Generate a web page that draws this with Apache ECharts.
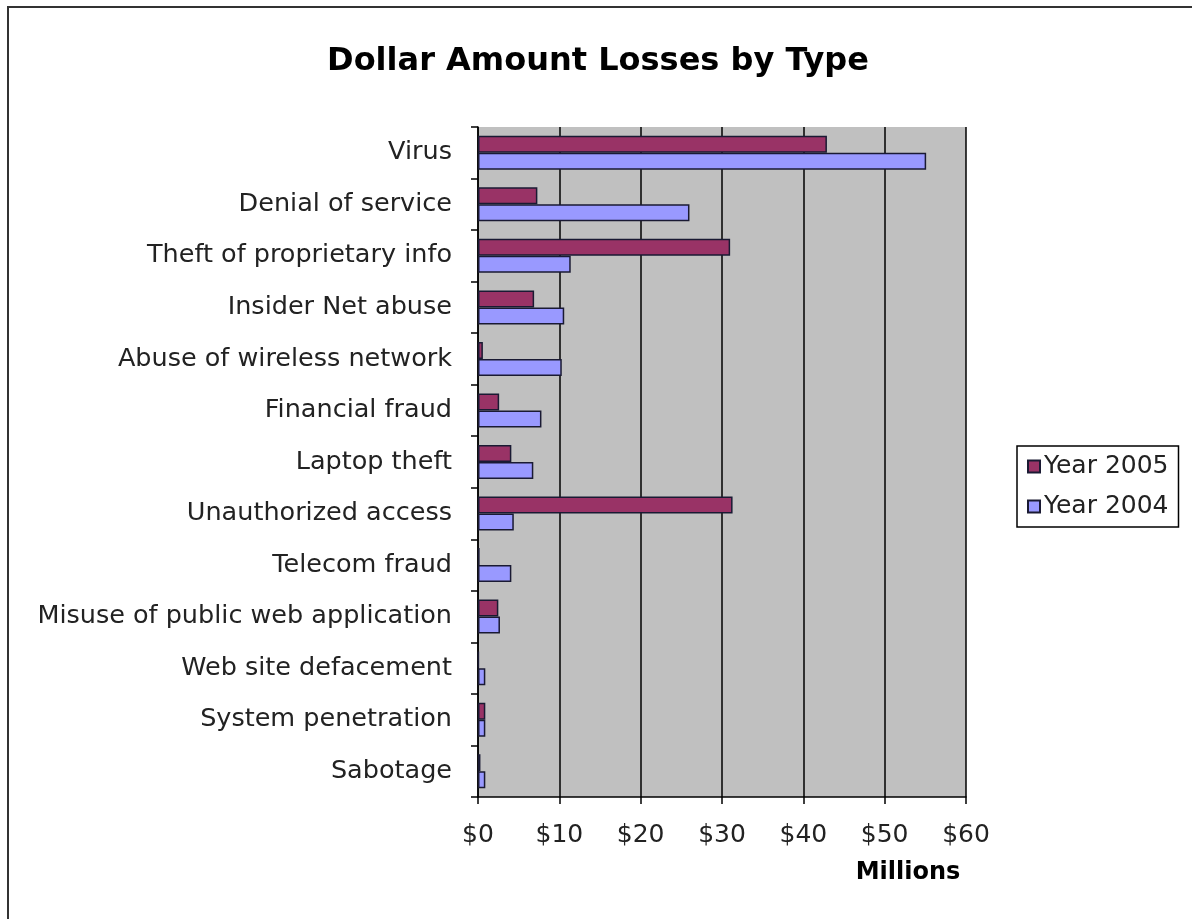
<!DOCTYPE html>
<html>
<head>
<meta charset="utf-8">
<script src="https://cdn.jsdelivr.net/npm/echarts@6/dist/echarts.min.js"></script>
<style>html,body{margin:0;padding:0;background:#fff;}#c{width:1192px;height:919px;}</style>
</head>
<body>
<div id="c"></div>
<script>
const categories = ["Virus","Denial of service","Theft of proprietary info","Insider Net abuse","Abuse of wireless network","Financial fraud","Laptop theft","Unauthorized access","Telecom fraud","Misuse of public web application","Web site defacement","System penetration","Sabotage"];
const year2005 = [42.9, 7.3, 31.0, 6.9, 0.6, 2.6, 4.1, 31.3, 0.2, 2.5, 0.1, 0.9, 0.3];
const year2004 = [55.1, 26.0, 11.4, 10.6, 10.3, 7.8, 6.8, 4.4, 4.1, 2.7, 0.9, 0.9, 0.9];
const xTicks = [0, 10, 20, 30, 40, 50, 60];
const seriesNames = ["Year 2005", "Year 2004"];
const FONT = "'DejaVu Sans', Verdana, sans-serif";

const chart = echarts.init(document.getElementById('c'), null, {renderer: 'canvas'});
chart.setOption({
  backgroundColor: '#ffffff',
  animation: false,
  title: {
    text: 'Dollar Amount Losses by Type',
    left: 593, top: 41, textAlign: 'center',
    textStyle: {fontFamily: FONT, fontSize: 32, fontWeight: 'bold', color: '#000'}
  },
  legend: {
    orient: 'vertical',
    left: 1017, top: 446,
    data: seriesNames,
    icon: 'rect', itemWidth: 12, itemHeight: 12, itemGap: 15,
    padding: [8, 10, 8, 10],
    borderColor: '#000', borderWidth: 1.5,
    textStyle: {fontFamily: FONT, fontSize: 25, color: '#222', padding: [0,0,0,-1]}
  },
  graphic: [
    {type: 'rect', shape: {x: 8, y: 7, width: 1300, height: 1000}, style: {fill: 'none', stroke: '#333', lineWidth: 2}, silent: true, z: -1},
    {type: 'text', x: 908, y: 873, style: {text: 'Millions', fontFamily: FONT, fontSize: 24, fontWeight: 'bold', fill: '#000', textAlign: 'center', textVerticalAlign: 'middle'}}
  ],
  grid: {left: 478, top: 127, right: 1192 - 966, bottom: 919 - 797, containLabel: false,
         show: true, backgroundColor: '#c0c0c0', borderWidth: 0},
  xAxis: {
    type: 'value', min: 0, max: 60, interval: 10,
    axisLine: {show: true, lineStyle: {color: '#000', width: 1.5}},
    axisTick: {show: true, length: 7, lineStyle: {color: '#000', width: 1.5}},
    splitLine: {show: true, lineStyle: {color: '#000', width: 1.5}},
    axisLabel: {margin: 26, fontFamily: FONT, fontSize: 25, color: '#222',
                formatter: v => xTicks.includes(v) ? '$' + v : ''}
  },
  yAxis: {
    type: 'category', data: categories, inverse: true,
    axisLine: {show: true, lineStyle: {color: '#000', width: 1.5}},
    axisTick: {show: true, length: 7, alignWithLabel: false, lineStyle: {color: '#000', width: 1.5}},
    splitLine: {show: false},
    axisLabel: {margin: 26, fontFamily: FONT, fontSize: 25.5, color: '#222'}
  },
  series: [
    {name: seriesNames[0], type: 'bar', data: year2005, barGap: '0%', barCategoryGap: '34%',
     itemStyle: {color: '#993366', borderColor: '#1a1a33', borderWidth: 1.5}},
    {name: seriesNames[1], type: 'bar', data: year2004, barGap: '0%', barCategoryGap: '34%',
     itemStyle: {color: '#9999ff', borderColor: '#1a1a33', borderWidth: 1.5}}
  ]
});
</script>
</body>
</html>
